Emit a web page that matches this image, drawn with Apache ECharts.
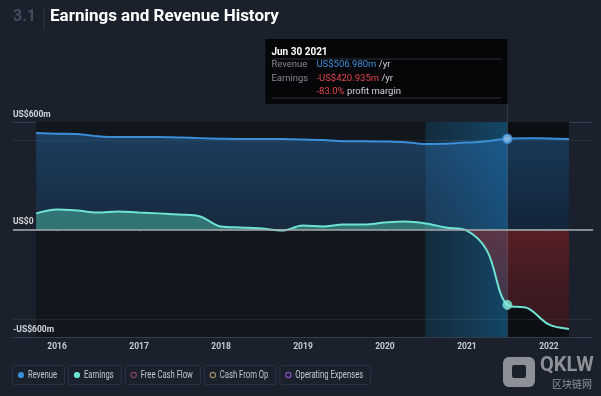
<!DOCTYPE html>
<html><head><meta charset="utf-8">
<script src="https://cdn.jsdelivr.net/npm/echarts@6/dist/echarts.min.js"></script>
<style>html,body{margin:0;padding:0;background:#1b212c;}#c{width:601px;height:396px;}</style>
</head><body><div id="c"></div>
<script>
const dates = ['2015-09-30','2015-12-31','2016-03-31','2016-06-30','2016-09-30','2016-12-31','2017-03-31','2017-06-30','2017-09-30','2017-12-31','2018-03-31','2018-06-30','2018-09-30','2018-12-31','2019-03-31','2019-06-30','2019-09-30','2019-12-31','2020-03-31','2020-06-30','2020-09-30','2020-12-31','2021-03-31','2021-06-30','2021-09-30','2021-12-31','2022-03-31'];
const revenue = [538,535,533,521,516,516,516,513,510,507,505,505,505,502,499,493,493,491,487,477,479,485,493,506.98,509,508,505];
const earnings = [90,112,106,95,101,95,90,84,73,17,11,6,-6,22,17,28,28,39,45,34,11,-6,-118,-420.935,-440,-530,-555];
const yearTicks = [2016,2017,2018,2019,2020,2021,2022];
const yTicks = [-600,0,600];
const highlightIndex = 23;
const highlightLabel = 'Jun 30 2021';
const legendNames = ['Revenue','Earnings','Free Cash Flow','Cash From Op','Operating Expenses'];
const legendColors = ['#3b8fd9','#6fe3d3','#8a4068','#a08a62','#8052c0'];
const legendHollow = [false,false,true,true,true];

function toYear(s){const [y,m,d]=s.split('-').map(Number);const t=Date.UTC(y,m-1,d),a=Date.UTC(y,0,1),b=Date.UTC(y+1,0,1);return y+(t-a)/(b-a);}
const xs = dates.map(toYear);
const revData = xs.map((x,i)=>[x,revenue[i]]);
const earnData = xs.map((x,i)=>[x,earnings[i]]);
const hx = xs[highlightIndex];
const x0 = xs[0], x1 = xs[xs.length-1];
const yMax = Math.max(...yTicks), yMin = Math.min(...yTicks);
const eMax = Math.max(0,...earnings), eMin = Math.min(0,...earnings);
const off = eMax/(eMax-eMin);
const FONT = 'Roboto, "Noto Sans", sans-serif';
const G = echarts.graphic;

const chart = echarts.init(document.getElementById('c'), null, {renderer:'canvas'});
const option = {
  backgroundColor:'#1b212c',
  animation:false,
  grid:{left:13,right:8,top:122,bottom:59,containLabel:false,outerBoundsMode:'none'},
  xAxis:{type:'value',min:yearTicks[0]-0.537,max:yearTicks[yearTicks.length-1]+0.537,
    axisLine:{show:true,lineStyle:{color:'#363d4a'}},
    axisTick:{show:true,customValues:yearTicks,length:3,lineStyle:{color:'#363d4a'}},
    axisLabel:{customValues:yearTicks,color:'#c6cbd3',fontSize:8.5,fontWeight:'bold',fontFamily:FONT,margin:5,formatter:v=>String(Math.round(v))},
    splitLine:{show:false}},
  yAxis:{type:'value',min:yMin,max:yMax,interval:600,
    axisLine:{show:false},axisTick:{show:false},
    axisLabel:{inside:true,margin:0,verticalAlign:'bottom',padding:[0,0,3,0],color:'#d0d4da',fontSize:8.5,fontWeight:'bold',fontFamily:FONT,
      formatter:v=>v===0?'US$0':(v<0?'-':'')+'US$'+Math.abs(v)+'m'},
    splitLine:{show:true,lineStyle:{color:'#363d4a',width:1}}},
  series:[
    {type:'line',data:revData,symbol:'none',silent:true,z:1,lineStyle:{opacity:0},
      markArea:{silent:true,z:0,data:[
        [{xAxis:x0,yAxis:yMax,itemStyle:{color:'#12161d'}},{xAxis:x1,yAxis:yMin}],
        [{xAxis:hx-1,yAxis:yMax,itemStyle:{color:new G.LinearGradient(0,0,1,0,[{offset:0,color:'rgba(25,95,135,0.3)'},{offset:1,color:'rgba(20,110,165,0.55)'}])}},{xAxis:hx,yAxis:yMin}],
        [{xAxis:hx,yAxis:yMax,itemStyle:{color:'rgba(0,0,0,0.3)'}},{xAxis:x1,yAxis:yMin}]
      ]},
      markLine:{silent:true,z:1,symbol:'none',label:{show:false},lineStyle:{color:'rgba(255,255,255,0.07)',type:'solid',width:1},
        data:[{yAxis:500},{yAxis:-500}]}},
    {name:'Revenue',type:'line',data:revData,smooth:0.35,symbol:'none',z:2,
      lineStyle:{color:'#3b8fd9',width:2},
      areaStyle:{color:new G.LinearGradient(0,0,0,1,[{offset:0,color:'rgba(45,125,200,0.55)'},{offset:1,color:'rgba(40,105,170,0.35)'}])}},
    {name:'Earnings',type:'line',data:earnData,smooth:0.35,symbol:'none',z:3,
      lineStyle:{color:'#6fe3d3',width:2},
      areaStyle:{opacity:1,color:new G.LinearGradient(0,0,0,1,[
        {offset:0,color:'rgba(70,175,155,0.55)'},{offset:off,color:'rgba(70,175,155,0.55)'},
        {offset:off,color:'rgba(150,45,52,0.55)'},{offset:1,color:'rgba(110,35,45,0.4)'}])},
      markLine:{silent:true,z:5,symbol:'none',label:{show:false},
        data:[{yAxis:0,lineStyle:{color:'#a6abb3',width:1.5,type:'solid'}},
              {xAxis:hx,lineStyle:{color:'rgba(255,255,255,0.12)',width:1,type:'solid'}}]}},
    {type:'scatter',z:6,silent:true,data:[[hx,revenue[highlightIndex]]],symbolSize:9,
      itemStyle:{color:'#8cc3ec',borderColor:'#3b8fd9',borderWidth:1.5}},
    {type:'scatter',z:6,silent:true,data:[[hx,earnings[highlightIndex]]],symbolSize:9,
      itemStyle:{color:'#8aeedf',borderColor:'#6fe3d3',borderWidth:1}}
  ]
};
chart.setOption(option);

const px = chart.convertToPixel({gridIndex:0},[hx,yMax]);
const ctx = document.createElement('canvas').getContext('2d');
function tw(t,f){ctx.font=f;return ctx.measureText(t).width;}

const g = [];
// title
g.push({type:'text',left:13,top:9,style:{text:'3.1',fill:'#444b58',font:'bold 16px '+FONT}});
g.push({type:'line',shape:{x1:44,y1:7,x2:44,y2:30},style:{stroke:'#2c323e',lineWidth:1}});
g.push({type:'text',left:50,top:8,style:{text:'Earnings and Revenue History',fill:'#ffffff',font:'bold 17px '+FONT}});
// tooltip
const tipW = 242, tipTop = 39, tipH = 65;
const L = px[0]-tipW;
const rv = revenue[highlightIndex], ev = earnings[highlightIndex];
const fmt = v=>(v<0?'-':'')+'US$'+Math.abs(v).toFixed(3)+'m';
const margin = (ev/rv*100).toFixed(1)+'%';
g.push({type:'rect',shape:{x:L,y:tipTop,width:tipW,height:tipH},style:{fill:'#050608'},z:10});
g.push({type:'line',shape:{x1:px[0],y1:tipTop+tipH,x2:px[0],y2:px[1]},style:{stroke:'rgba(255,255,255,0.12)',lineWidth:1},z:10});
g.push({type:'text',x:L+6,y:tipTop+13,z:11,style:{text:highlightLabel,fill:'#ffffff',font:'bold 10px '+FONT,verticalAlign:'middle'}});
g.push({type:'line',z:11,shape:{x1:L+6,y1:tipTop+20,x2:L+tipW-6,y2:tipTop+20},style:{stroke:'#2a2e35',lineWidth:1}});
g.push({type:'line',z:11,shape:{x1:L+6,y1:tipTop+59,x2:L+tipW-6,y2:tipTop+59},style:{stroke:'#2a2e35',lineWidth:1}});
const rows = [['Revenue',fmt(rv),'#3f8fdb',' /yr'],['Earnings',fmt(ev),'#e3484e',' /yr'],['',margin,'#e3484e',' profit margin']];
rows.forEach((r,i)=>{
  const yy = tipTop+26+i*13.5;
  if(r[0]) g.push({type:'text',x:L+6,y:yy,z:11,style:{text:r[0],fill:'#858b94',font:'9.5px '+FONT,verticalAlign:'middle'}});
  g.push({type:'text',x:L+51,y:yy,z:11,style:{text:'{v|'+r[1]+'}{u|'+r[3]+'}',verticalAlign:'middle',
    rich:{v:{fill:r[2],font:'9.5px '+FONT},u:{fill:'#d2d4d8',font:'9.5px '+FONT}}}});
});
// legend
let lx = 12;
const lf = '10.5px '+FONT;
const sx = 0.73;
legendNames.forEach((n,i)=>{
  const w = 16+tw(n,lf)*sx+7;
  g.push({type:'rect',shape:{x:lx+0.5,y:365.5,width:w,height:19,r:2},style:{fill:'rgba(0,0,0,0)',stroke:'#2d3441',lineWidth:1}});
  g.push({type:'circle',shape:{cx:lx+9,cy:375,r:legendHollow[i]?2.6:3.1},style:legendHollow[i]?{fill:'none',stroke:legendColors[i],lineWidth:1.2}:{fill:legendColors[i]}});
  g.push({type:'text',x:lx+16,y:375,scaleX:sx,style:{text:n,fill:'#c3c8d0',font:lf,verticalAlign:'middle'}});
  lx += w+4;
});
// watermark
g.push({type:'rect',shape:{x:503,y:357,width:32,height:30,r:6},style:{fill:'#8d9197'}});
g.push({type:'rect',shape:{x:512,y:365,width:14,height:13,r:2},style:{fill:'#1b212c'}});
g.push({type:'text',x:540,y:366,style:{text:'QKLW',fill:'#8d9197',font:'bold 20px '+FONT,verticalAlign:'middle'}});
g.push({type:'text',x:552,y:384,style:{text:'区块链网',fill:'#8d9197',font:'10px "Noto Sans CJK SC"',verticalAlign:'middle'}});
chart.setOption({graphic:g});
</script></body></html>
